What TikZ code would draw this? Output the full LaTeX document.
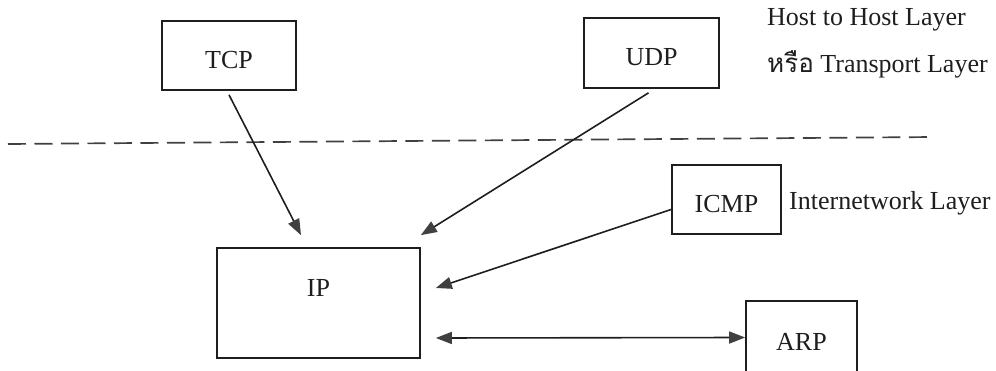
\documentclass[tikz,border=0pt]{standalone}
\usepackage{fontspec}
\setmainfont{Liberation Serif}
\newfontfamily\thaifont[Script=Thai]{Loma}
\usetikzlibrary{arrows.meta,calc}
\definecolor{ink}{HTML}{1E1E1E}
\definecolor{tipgray}{HTML}{404040}
\begin{document}
\begin{tikzpicture}[x=1pt,y=-1pt,
  box/.style={draw=ink, line width=1.7pt, inner sep=0pt, text=ink,
    text height=26pt, text depth=0pt,
    font=\fontsize{26}{30}\selectfont},
  lbl/.style={inner sep=0pt, text=ink, font=\fontsize{26}{30}\selectfont},
  tip/.style={Triangle[length=16pt,width=12pt,color=tipgray]},
  link/.style={draw=ink, line width=1.6pt, -{Triangle[length=16pt,width=12pt,color=tipgray]}},
  bilink/.style={draw=ink, line width=1.6pt,
    {Triangle[length=16pt,width=12pt,color=tipgray]}-{Triangle[length=16pt,width=12pt,color=tipgray]}},
  sep/.style={draw=ink!85, line width=1.7pt, dash pattern=on 18pt off 8.5pt},
]
\useasboundingbox (0,0) rectangle (996,371);

% protocol boxes
\node[box, minimum width=134pt, minimum height=69pt] (tcp) at (229,55.5) {TCP};
\node[box, minimum width=135pt, minimum height=70pt] (udp) at (651.5,53) {UDP};
\node[box, minimum width=203pt, minimum height=110pt,
      label={[lbl, yshift=15pt]center:IP}] (ip) at (318.5,303) {};
\node[box, minimum width=109pt, minimum height=69pt] (icmp) at (726.5,199.5) {ICMP};
\node[box, minimum width=111pt, minimum height=73pt] (arp) at (801.5,337.5) {ARP};

% layer captions
\node[lbl, anchor=base west] (hth) at (767,26) {Host to Host Layer};
\node[lbl, anchor=base west] (tpl) at (767,73) {{\thaifont หรือ} Transport Layer};
\node[lbl, anchor=base west] (inl) at (789,210) {Internetwork Layer};

% boundary between the two layers
\coordinate (sepL) at (8,144);
\coordinate (sepR) at (935,137);
\draw[sep] (sepL) -- (sepR);

% arrow ends in front of the IP box
\coordinate (ipTop1) at ($(ip.north)+(-17.5,-12)$);
\coordinate (ipTop2) at ($(ip.north east)+(0,-12)$);
\coordinate (ipSide1) at ($(ip.east)+(15,-15)$);
\coordinate (ipSide2) at ($(ip.east)+(15,35)$);

\draw[link] ([yshift=-4pt]tcp.south) -- (ipTop1);
\draw[link] ([xshift=-3pt,yshift=-4pt]udp.south) -- (ipTop2);
\draw[link] ([yshift=-10pt]icmp.west) -- (ipSide1);
\draw[bilink] (ipSide2) -- (arp.west);
\end{tikzpicture}
\end{document}
